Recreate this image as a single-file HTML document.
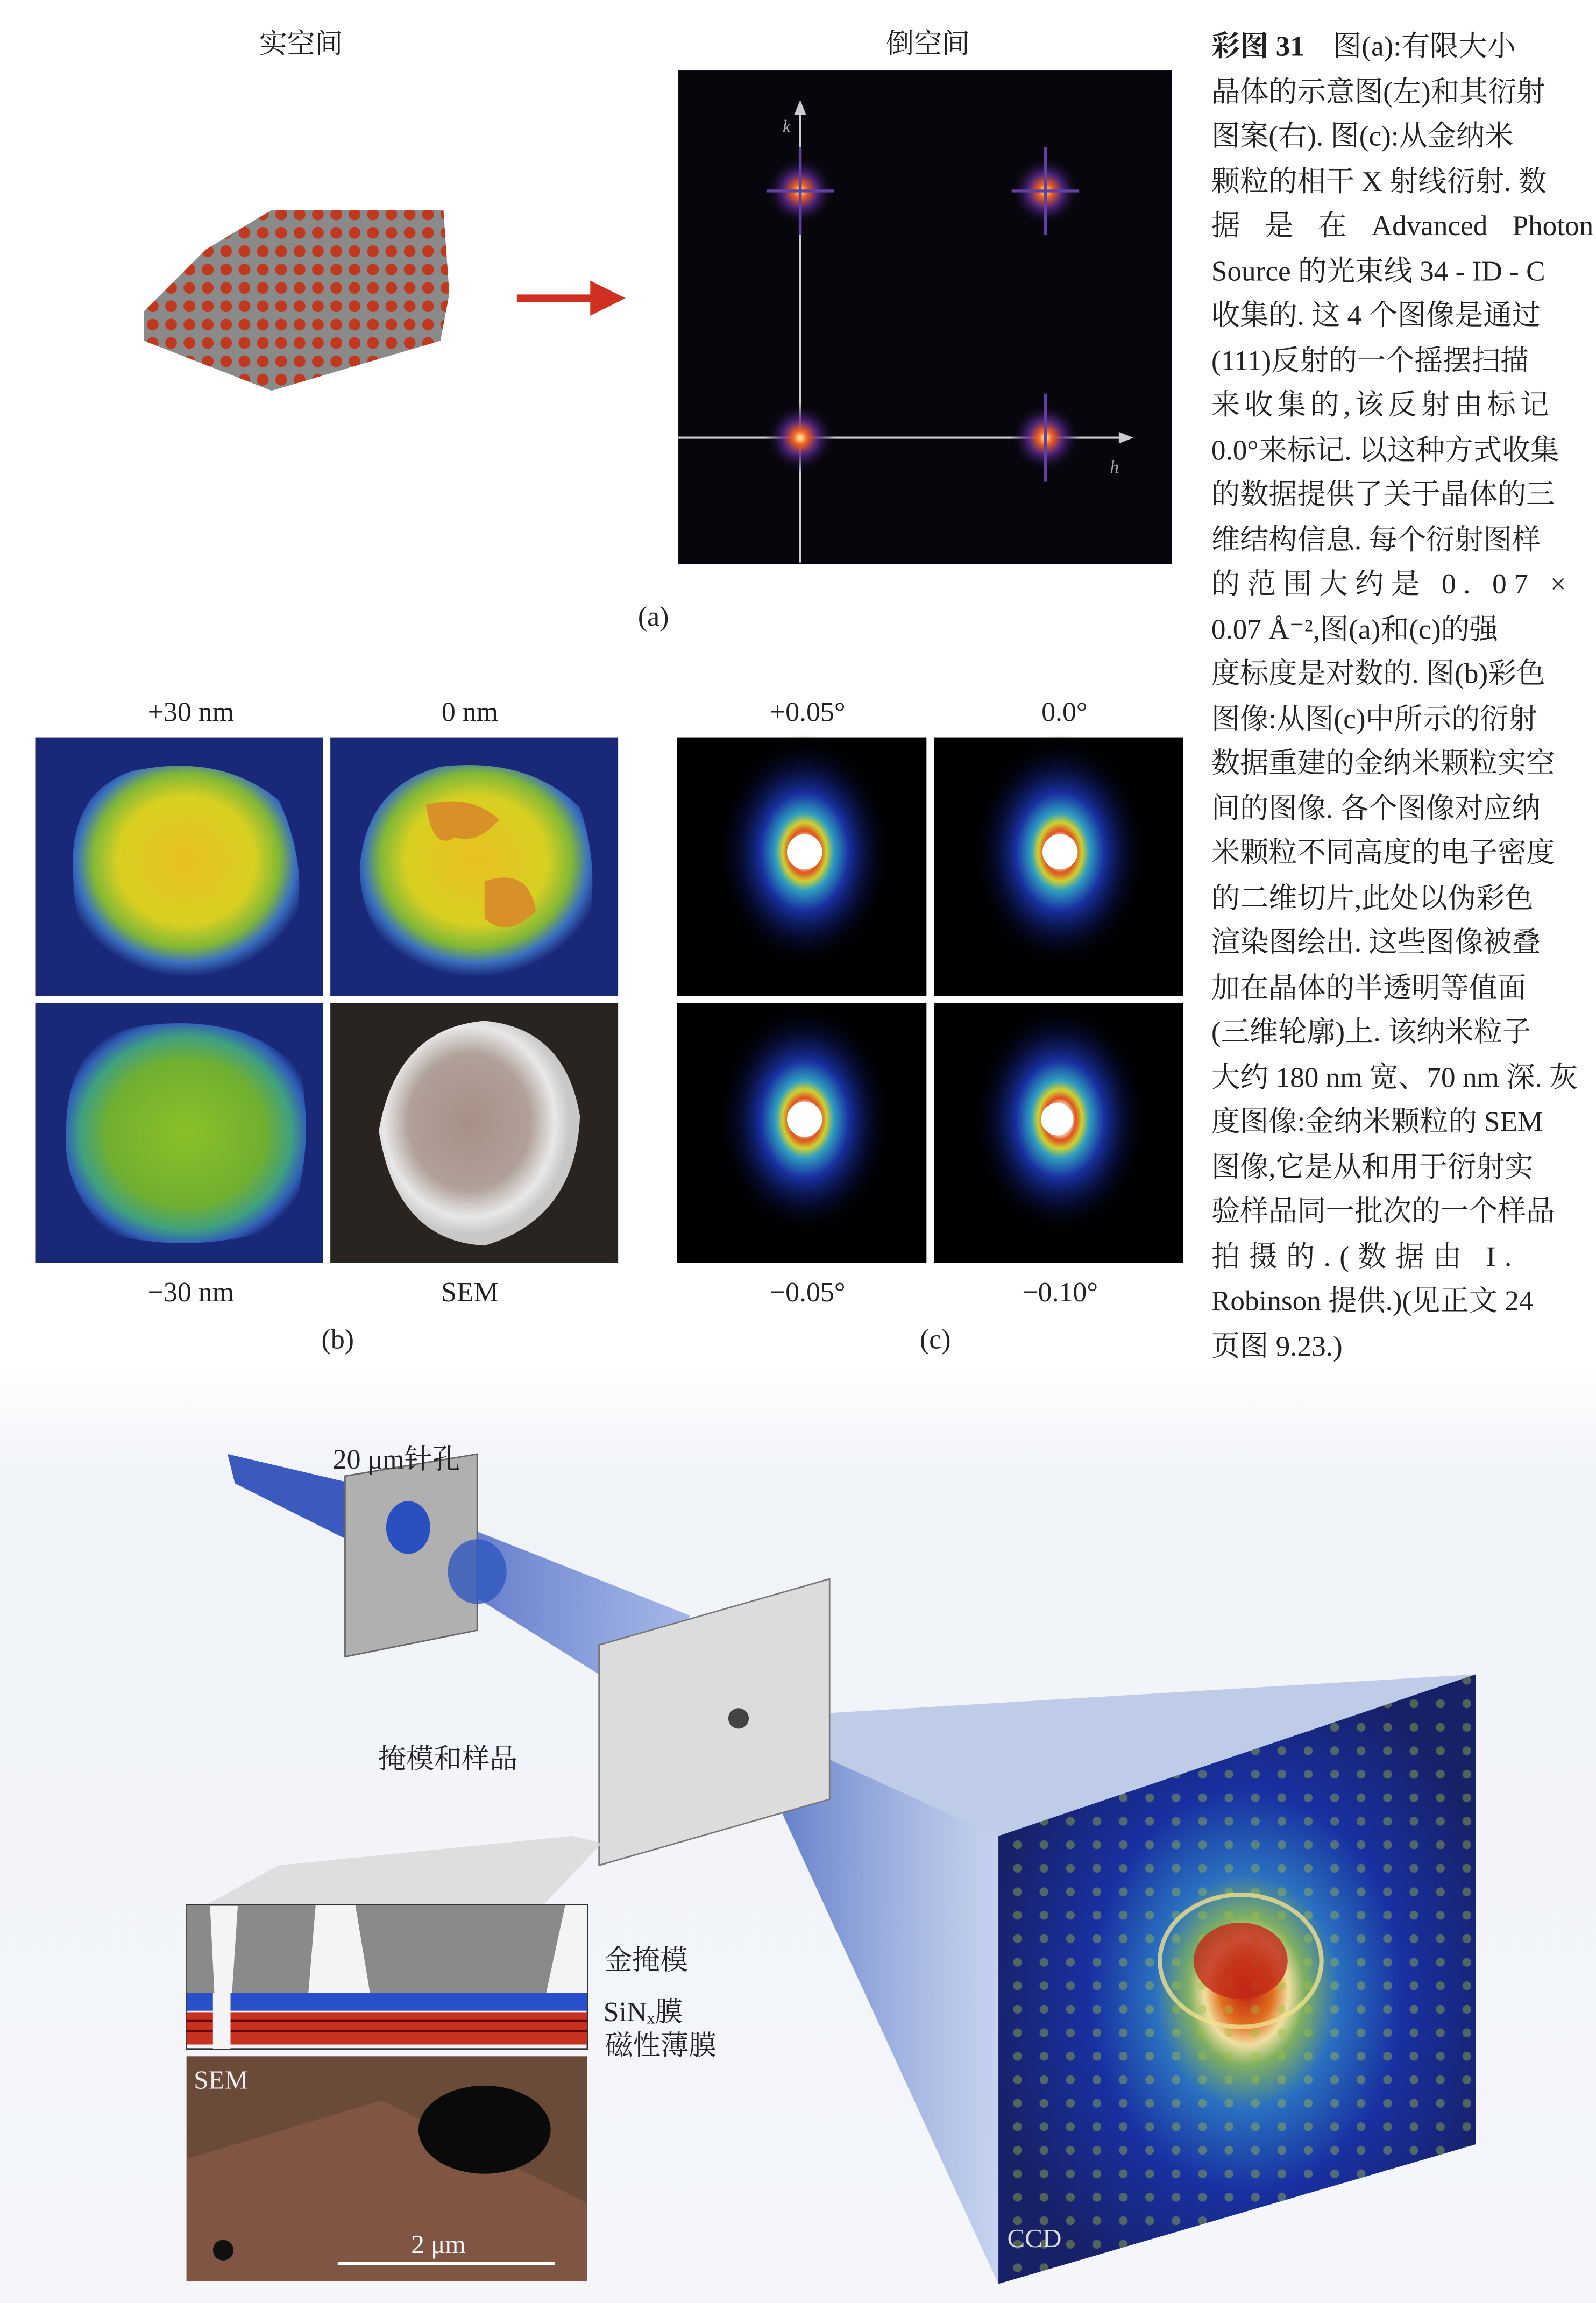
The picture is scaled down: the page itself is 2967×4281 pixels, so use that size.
<!DOCTYPE html>
<html><head><meta charset="utf-8"><style>
html,body{margin:0;padding:0;background:#fff;}
svg{display:block;}
.cap{font-family:"Liberation Serif","Noto Serif CJK SC",serif;font-size:19.5px;fill:#222;}
.lbl{font-family:"Liberation Serif","Noto Serif CJK SC",serif;font-size:19px;fill:#222;text-anchor:middle;}
</style></head><body>
<svg width="2967" height="4281" viewBox="0 0 1087 1568" preserveAspectRatio="none" xmlns="http://www.w3.org/2000/svg">
<defs>
<pattern id="dots" width="12.5" height="12.5" patternUnits="userSpaceOnUse" x="98" y="140">
<circle cx="6" cy="6" r="4" fill="#c0391e"/>
</pattern>
<radialGradient id="spot"><stop offset="0" stop-color="#fff6a0"/><stop offset="0.2" stop-color="#f06020"/><stop offset="0.5" stop-color="#5a2a90" stop-opacity="0.8"/><stop offset="1" stop-color="#000" stop-opacity="0"/></radialGradient>
<radialGradient id="blobY" cx="0.5" cy="0.45" r="0.55"><stop offset="0" stop-color="#e8c020"/><stop offset="0.55" stop-color="#d8d020"/><stop offset="0.75" stop-color="#80b838"/><stop offset="0.88" stop-color="#3a70c0"/><stop offset="1" stop-color="#1a2878"/></radialGradient>
<radialGradient id="blobG" cx="0.5" cy="0.5" r="0.55"><stop offset="0" stop-color="#8cc028"/><stop offset="0.6" stop-color="#70b030"/><stop offset="0.8" stop-color="#40a080"/><stop offset="0.92" stop-color="#3060b8"/><stop offset="1" stop-color="#1a2878"/></radialGradient>
<radialGradient id="sem" cx="0.45" cy="0.45" r="0.5"><stop offset="0" stop-color="#a89088"/><stop offset="0.6" stop-color="#b0a098"/><stop offset="0.85" stop-color="#e8e8e8"/><stop offset="1" stop-color="#c8c8c8"/></radialGradient>
<radialGradient id="diff" cx="0.5" cy="0.5" r="0.5"><stop offset="0" stop-color="#fff"/><stop offset="0.12" stop-color="#f8f0d0"/><stop offset="0.18" stop-color="#e05020"/><stop offset="0.25" stop-color="#d0d030"/><stop offset="0.33" stop-color="#30a0c0"/><stop offset="0.5" stop-color="#1830a0"/><stop offset="0.75" stop-color="#081040" stop-opacity="0.6"/><stop offset="1" stop-color="#000" stop-opacity="0"/></radialGradient>
<radialGradient id="ccd" cx="0.52" cy="0.52" r="0.55"><stop offset="0" stop-color="#c02010"/><stop offset="0.1" stop-color="#e07020"/><stop offset="0.16" stop-color="#f0e0a0"/><stop offset="0.22" stop-color="#80b060"/><stop offset="0.35" stop-color="#2a70c0"/><stop offset="0.6" stop-color="#1830a0"/><stop offset="1" stop-color="#182068"/></radialGradient>
<pattern id="ccddots" width="18" height="16" patternUnits="userSpaceOnUse"><circle cx="9" cy="8" r="3" fill="#a0c040" opacity="0.7"/></pattern>
<linearGradient id="beam" x1="0" y1="0" x2="1" y2="0"><stop offset="0" stop-color="#2848b8"/><stop offset="1" stop-color="#6a88d8" stop-opacity="0.7"/></linearGradient>
<linearGradient id="beam2" x1="0" y1="0" x2="1" y2="0"><stop offset="0" stop-color="#1840b0"/><stop offset="1" stop-color="#90a8e0" stop-opacity="0.6"/></linearGradient>
<linearGradient id="bgfade" x1="0" y1="0" x2="0" y2="1"><stop offset="0" stop-color="#fff"/><stop offset="0.12" stop-color="#f0f3f8"/><stop offset="1" stop-color="#f4f6fa"/></linearGradient>
<clipPath id="hexclip"><polygon points="98,212 140,170 185,143 302,143 306,200 300,232 185,266 98,232"/></clipPath>
</defs>

<rect x="0" y="0" width="1087" height="1568" fill="#fff"/>
<rect x="0" y="930" width="1087" height="638" fill="url(#bgfade)"/>

<text class="lbl" x="205" y="36">实空间</text>
<text class="lbl" x="632" y="36">倒空间</text>
<g>
<polygon points="98,212 140,170 185,143 302,143 306,200 300,232 185,266 98,232" fill="#8a8a8a"/>
<rect x="90" y="135" width="225" height="140" fill="url(#dots)" clip-path="url(#hexclip)"/>
</g>
<g>
<line x1="352" y1="203" x2="405" y2="203" stroke="#d03020" stroke-width="5"/>
<polygon points="402,191 426,203 402,215" fill="#d03020"/>
</g>
<g>
<rect x="462" y="48" width="336" height="336" fill="#06060c"/>
<line x1="545" y1="383" x2="545" y2="72" stroke="#ccc" stroke-width="1.5"/>
<polygon points="541,78 545,68 549,78" fill="#ccc"/>
<line x1="462" y1="298" x2="766" y2="298" stroke="#ccc" stroke-width="1.5"/>
<polygon points="762,294 772,298 762,302" fill="#ccc"/>
<text x="533" y="90" font-size="12" fill="#aaa" font-style="italic" font-family="Liberation Serif,serif">k</text>
<text x="756" y="322" font-size="12" fill="#aaa" font-style="italic" font-family="Liberation Serif,serif">h</text>
<g><circle cx="545" cy="130" r="24" fill="url(#spot)"/><line x1="545" y1="100" x2="545" y2="160" stroke="#6040a0" stroke-width="2"/><line x1="522" y1="130" x2="568" y2="130" stroke="#6040a0" stroke-width="2"/></g>
<g><circle cx="712" cy="130" r="24" fill="url(#spot)"/><line x1="712" y1="100" x2="712" y2="160" stroke="#6040a0" stroke-width="2"/><line x1="689" y1="130" x2="735" y2="130" stroke="#6040a0" stroke-width="2"/></g>
<g><circle cx="545" cy="298" r="24" fill="url(#spot)"/></g>
<g><circle cx="712" cy="298" r="24" fill="url(#spot)"/><line x1="712" y1="268" x2="712" y2="328" stroke="#6040a0" stroke-width="2"/></g>
</g>
<text class="lbl" x="445" y="426">(a)</text>

<text class="lbl" x="130" y="491">+30 nm</text>
<text class="lbl" x="320" y="491">0 nm</text>
<g><rect x="24" y="502" width="196" height="176" fill="#1a2878"/><path d="M50,600 Q45,540 90,525 Q150,512 190,545 Q215,600 195,650 Q150,672 90,662 Q50,645 50,600Z" fill="url(#blobY)"/></g>
<g><rect x="225" y="502" width="196" height="176" fill="#1a2878"/><path d="M245,590 Q250,535 300,522 Q360,515 395,550 Q412,600 395,650 Q340,672 290,662 Q245,640 245,590Z" fill="url(#blobY)"/><path d="M290,548 Q320,540 340,558 Q325,575 310,570 Q295,580 290,548Z M330,600 Q360,590 365,620 Q345,640 330,625Z" fill="#d89028"/></g>
<g><rect x="24" y="683" width="196" height="177" fill="#1a2878"/><path d="M45,770 Q45,705 100,698 Q170,690 205,730 Q215,790 195,835 Q130,855 75,840 Q42,810 45,770Z" fill="url(#blobG)"/></g>
<g><rect x="225" y="683" width="196" height="177" fill="#2a2420"/><path d="M258,770 Q270,700 330,695 Q385,700 395,760 Q392,830 330,848 Q270,845 258,770Z" fill="url(#sem)"/></g>
<text class="lbl" x="130" y="886">−30 nm</text>
<text class="lbl" x="320" y="886">SEM</text>
<text class="lbl" x="230" y="918">(b)</text>

<text class="lbl" x="550" y="491">+0.05°</text>
<text class="lbl" x="725" y="491">0.0°</text>
<g><rect x="461" y="502" width="170" height="176" fill="#000"/><ellipse cx="548" cy="580" rx="60" ry="80" fill="url(#diff)"/><circle cx="548" cy="580" r="12" fill="#fff"/></g>
<g><rect x="636" y="502" width="170" height="176" fill="#000"/><ellipse cx="722" cy="580" rx="60" ry="80" fill="url(#diff)"/><circle cx="722" cy="580" r="12" fill="#fff"/></g>
<g><rect x="461" y="683" width="170" height="177" fill="#000"/><ellipse cx="548" cy="762" rx="60" ry="80" fill="url(#diff)"/><circle cx="548" cy="762" r="12" fill="#fff"/></g>
<g><rect x="636" y="683" width="170" height="177" fill="#000"/><ellipse cx="722" cy="762" rx="60" ry="80" fill="url(#diff)"/><circle cx="720" cy="762" r="11" fill="#fff"/></g>
<text class="lbl" x="550" y="886">−0.05°</text>
<text class="lbl" x="722" y="886">−0.10°</text>
<text class="lbl" x="637" y="918">(c)</text>

<g class="cap">
<text class="cap" x="825" y="38"><tspan font-weight="bold">彩图 31</tspan>　图(a):有限大小</text>
<text class="cap" x="825" y="69">晶体的示意图(左)和其衍射</text>
<text class="cap" x="825" y="99">图案(右). 图(c):从金纳米</text>
<text class="cap" x="825" y="130">颗粒的相干 X 射线衍射. 数</text>
<text class="cap" x="825" y="160" word-spacing="12">据 是 在 Advanced Photon</text>
<text class="cap" x="825" y="191">Source 的光束线 34 - ID - C</text>
<text class="cap" x="825" y="221">收集的. 这 4 个图像是通过</text>
<text class="cap" x="825" y="252">(111)反射的一个摇摆扫描</text>
<text class="cap" x="825" y="282" letter-spacing="3">来收集的,该反射由标记</text>
<text class="cap" x="825" y="313">0.0°来标记. 以这种方式收集</text>
<text class="cap" x="825" y="343">的数据提供了关于晶体的三</text>
<text class="cap" x="825" y="374">维结构信息. 每个衍射图样</text>
<text class="cap" x="825" y="404" letter-spacing="5">的范围大约是 0. 07 ×</text>
<text class="cap" x="825" y="435">0.07 Å⁻²,图(a)和(c)的强</text>
<text class="cap" x="825" y="465">度标度是对数的. 图(b)彩色</text>
<text class="cap" x="825" y="496">图像:从图(c)中所示的衍射</text>
<text class="cap" x="825" y="526">数据重建的金纳米颗粒实空</text>
<text class="cap" x="825" y="557">间的图像. 各个图像对应纳</text>
<text class="cap" x="825" y="587">米颗粒不同高度的电子密度</text>
<text class="cap" x="825" y="618">的二维切片,此处以伪彩色</text>
<text class="cap" x="825" y="648">渲染图绘出. 这些图像被叠</text>
<text class="cap" x="825" y="679">加在晶体的半透明等值面</text>
<text class="cap" x="825" y="709">(三维轮廓)上. 该纳米粒子</text>
<text class="cap" x="825" y="740">大约 180 nm 宽、70 nm 深. 灰</text>
<text class="cap" x="825" y="770">度图像:金纳米颗粒的 SEM</text>
<text class="cap" x="825" y="801">图像,它是从和用于衍射实</text>
<text class="cap" x="825" y="831">验样品同一批次的一个样品</text>
<text class="cap" x="825" y="862" letter-spacing="6">拍摄的.(数据由 I.</text>
<text class="cap" x="825" y="892">Robinson 提供.)(见正文 24</text>
<text class="cap" x="825" y="923">页图 9.23.)</text>
</g>

<g>
<polygon points="155,990 160,1010 240,1050 240,1010" fill="#2848b8" opacity="0.9"/>
<polygon points="280,1025 280,1060 440,1160 470,1100" fill="url(#beam)" opacity="0.8"/>
<polygon points="503,1170 1005,1140 680,1250" fill="#6080c8" opacity="0.35"/>
<polygon points="503,1170 680,1250 680,1555" fill="url(#beam2)" opacity="0.75"/>
</g>
<g>
<polygon points="235,1005 325,990 325,1110 235,1128" fill="#b0b0b0" stroke="#666"/>
<ellipse cx="278" cy="1040" rx="15" ry="18" fill="#2a50c0"/>
<ellipse cx="325" cy="1070" rx="20" ry="22" fill="#3058c0" opacity="0.8"/>
</g>
<text class="lbl" x="270" y="1000">20 μm针孔</text>
<g>
<polygon points="408,1120 565,1075 565,1225 408,1270" fill="#dcdcdc" stroke="#777"/>
<circle cx="503" cy="1170" r="7" fill="#444"/>
</g>
<text class="lbl" x="305" y="1204">掩模和样品</text>
<polygon points="140,1297 190,1270 390,1250 410,1255 370,1297" fill="#d8d8d8" opacity="0.8"/>
<g>
<rect x="127" y="1297" width="273" height="98" fill="#f4f4f4" stroke="#333"/>
<polygon points="127,1297 143,1297 146,1357 127,1357" fill="#8a8a8a"/>
<polygon points="162,1297 385,1297 372,1357 158,1357" fill="#8a8a8a"/>
<polygon points="215,1297 242,1297 252,1357 210,1357" fill="#f4f4f4"/>
<polygon points="385,1297 400,1297 400,1357 372,1357" fill="#f4f4f4"/>
<rect x="127" y="1357" width="273" height="12" fill="#2850c8"/>
<rect x="127" y="1370" width="273" height="22" fill="#c83020"/>
<line x1="127" y1="1376" x2="400" y2="1376" stroke="#600" stroke-width="1.5"/>
<line x1="127" y1="1383" x2="400" y2="1383" stroke="#600" stroke-width="1.5"/>
<rect x="145" y="1357" width="12" height="38" fill="#f4f4f4"/>
</g>
<text class="lbl" x="440" y="1341">金掩模</text>
<text class="lbl" x="438" y="1376">SiNₓ膜</text>
<text class="lbl" x="450" y="1399">磁性薄膜</text>
<g>
<rect x="127" y="1400" width="273" height="153" fill="#6a4a38"/>
<polygon points="127,1470 260,1430 400,1500 400,1553 127,1553" fill="#8a5a48" opacity="0.7"/>
<ellipse cx="330" cy="1450" rx="45" ry="30" fill="#0a0a0a"/>
<circle cx="152" cy="1532" r="7" fill="#111"/>
<line x1="230" y1="1541" x2="378" y2="1541" stroke="#fff" stroke-width="2"/>
<text x="132" y="1422" font-family="Liberation Serif,serif" font-size="18" fill="#eee">SEM</text>
<text x="280" y="1534" font-family="Liberation Serif,serif" font-size="18" fill="#fff">2 μm</text>
</g>
<g>
<polygon points="680,1250 1005,1140 1005,1460 680,1555" fill="url(#ccd)"/>
<polygon points="680,1250 1005,1140 1005,1460 680,1555" fill="url(#ccddots)" opacity="0.6"/>
<ellipse cx="845" cy="1335" rx="55" ry="45" fill="none" stroke="#f0e090" stroke-width="3" opacity="0.8"/>
<ellipse cx="845" cy="1335" rx="32" ry="26" fill="#c02818" opacity="0.8"/>
<text x="686" y="1530" font-family="Liberation Serif,serif" font-size="18" fill="#ddd">CCD</text>
</g>
</svg>
</body></html>
